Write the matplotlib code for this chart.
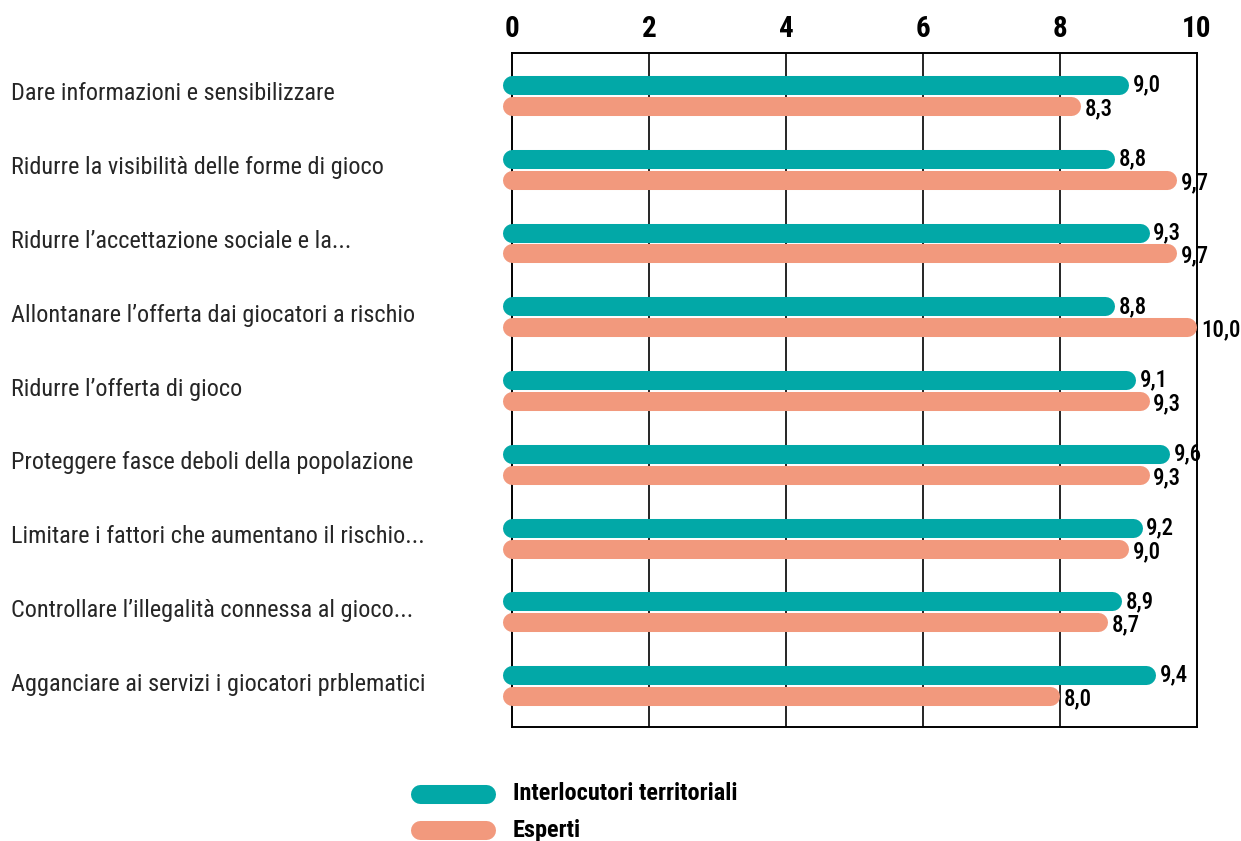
import matplotlib
matplotlib.use("Agg")
import matplotlib.pyplot as plt
from matplotlib import font_manager
from matplotlib.lines import Line2D
import matplotlib.transforms as mtransforms

# ---- data -------------------------------------------------------------
categories = [
    "Dare informazioni e sensibilizzare",
    "Ridurre la visibilità delle forme di gioco",
    "Ridurre l\u2019accettazione sociale e la...",
    "Allontanare l\u2019offerta dai giocatori a rischio",
    "Ridurre l\u2019offerta di gioco",
    "Proteggere fasce deboli della popolazione",
    "Limitare i fattori che aumentano il rischio...",
    "Controllare l\u2019illegalità connessa al gioco...",
    "Agganciare ai servizi i giocatori prblematici",
]
territoriali = [9.0, 8.8, 9.3, 8.8, 9.1, 9.6, 9.2, 8.9, 9.4]
esperti = [8.3, 9.7, 9.7, 10.0, 9.3, 9.3, 9.0, 8.7, 8.0]
x_ticks = [0, 2, 4, 6, 8, 10]
series_names = ["Interlocutori territoriali", "Esperti"]

# ---- style ------------------------------------------------------------
TEAL = "#02A8A7"
SALMON = "#F2997D"
TEXT = "#262626"

available = {f.name for f in font_manager.fontManager.ttflist}


def pick(*names):
    for n in names:
        if n in available:
            return n
    return "DejaVu Sans"


NARROW = pick("Roboto Condensed", "Liberation Sans Narrow", "Open Sans Condensed", "DejaVu Sans")
label_font = dict(family=NARROW, stretch="condensed", weight="normal")
value_font = dict(family=NARROW, stretch="condensed", weight="medium")
bold_font = dict(family=NARROW, stretch="condensed", weight="bold")

W, H = 1241, 841
fig = plt.figure(figsize=(W / 100, H / 100), dpi=100)
ax = fig.add_axes([512 / W, 1 - 727 / H, (1197 - 512) / W, (727 - 53) / H])

ax.set_xlim(0, 10)
ax.set_ylim(8.56, -0.575)

# grid and frame
for s in ax.spines.values():
    s.set_color("black")
    s.set_linewidth(1.4)
for t in x_ticks[1:-1]:
    ax.axvline(t, color="black", lw=1.2, zorder=1)

ax.xaxis.tick_top()
ax.set_xticks(x_ticks)
ax.set_xticklabels([str(t) for t in x_ticks], fontsize=21, color="black", **bold_font)
ax.tick_params(axis="x", length=0, pad=7)
ax.set_yticks([])

BAR_LW = 13.7                      # points
CAP_PX = BAR_LW / 72 * 100 / 2     # half thickness in pixels (round cap radius)
px_per_unit = (1197 - 512) / 10.0
cap_units = CAP_PX / px_per_unit
OFF = 0.142
for i, (a, b) in enumerate(zip(territoriali, esperti)):
    for val, yy, col, dy in ((a, i - OFF, TEAL, 0), (b, i + OFF, SALMON, -2)):
        # bar starts at 0 with its cap poking left; the rounded end sits at the value
        ax.add_line(Line2D([0, val - cap_units], [yy, yy], color=col, lw=BAR_LW,
                           solid_capstyle="round", clip_on=False, zorder=3))
        ax.annotate(f"{val:.1f}".replace(".", ","), xy=(val, yy),
                    xytext=(3, dy), textcoords="offset points",
                    ha="left", va="center", fontsize=16.5, color="black",
                    annotation_clip=False, zorder=4, **value_font)

# category labels on the left
trans = mtransforms.blended_transform_factory(fig.transFigure, ax.transData)
for i, cat in enumerate(categories):
    ax.text(11 / W, i - 0.02, cat, transform=trans, ha="left", va="center",
            fontsize=17.5, color=TEXT, **label_font)

# legend
for name, col, ypx in ((series_names[0], TEAL, 794), (series_names[1], SALMON, 830)):
    yf = 1 - ypx / H
    fig.add_artist(Line2D([420 / W, 486 / W], [yf, yf], transform=fig.transFigure,
                          color=col, lw=BAR_LW, solid_capstyle="round"))
    fig.text(513 / W, yf, name, ha="left", va="center", fontsize=17.5,
             color="black", **bold_font)

fig.savefig("out.png", dpi=100)
